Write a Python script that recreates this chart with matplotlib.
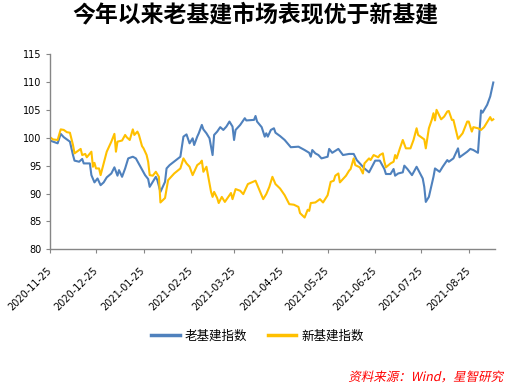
# -*- coding: utf-8 -*-
"""Old vs new infrastructure index, recreated with matplotlib."""

import matplotlib
matplotlib.use('Agg')
import matplotlib.pyplot as plt
import pandas as pd
from matplotlib.textpath import TextPath
from matplotlib.patches import PathPatch
from matplotlib.font_manager import FontProperties
from matplotlib.transforms import Affine2D

# DATA
# ----
title = '今年以来老基建市场表现优于新基建'
source = '资料来源：Wind，星智研究'
old_label = '老基建指数'
new_label = '新基建指数'

tick_dates = ['2020-11-25', '2020-12-25', '2021-01-25', '2021-02-25', '2021-03-25',
              '2021-04-25', '2021-05-25', '2021-06-25', '2021-07-25', '2021-08-25']
y_ticks = [80, 85, 90, 95, 100, 105, 110, 115]

old_dates = ['2020-11-25', '2020-11-30', '2020-12-02', '2020-12-04', '2020-12-08', '2020-12-10',
             '2020-12-11', '2020-12-14', '2020-12-16', '2020-12-17', '2020-12-21', '2020-12-22',
             '2020-12-24', '2020-12-26', '2020-12-28', '2020-12-30', '2021-01-01', '2021-01-04',
             '2021-01-06', '2021-01-08', '2021-01-09', '2021-01-11', '2021-01-13', '2021-01-15',
             '2021-01-18', '2021-01-20', '2021-01-23', '2021-01-26', '2021-01-28', '2021-01-29',
             '2021-02-02', '2021-02-03', '2021-02-05', '2021-02-08', '2021-02-09', '2021-02-11',
             '2021-02-18', '2021-02-19', '2021-02-20', '2021-02-22', '2021-02-24', '2021-02-26',
             '2021-02-27', '2021-03-01', '2021-03-02', '2021-03-04', '2021-03-05', '2021-03-07',
             '2021-03-09', '2021-03-11', '2021-03-12', '2021-03-14', '2021-03-16', '2021-03-18',
             '2021-03-19', '2021-03-20', '2021-03-22', '2021-03-24', '2021-03-25', '2021-03-26',
             '2021-03-29', '2021-04-01', '2021-04-02', '2021-04-07', '2021-04-08', '2021-04-09',
             '2021-04-12', '2021-04-14', '2021-04-15', '2021-04-16', '2021-04-18', '2021-04-20',
             '2021-04-21', '2021-04-24', '2021-04-27', '2021-05-01', '2021-05-06', '2021-05-10',
             '2021-05-13', '2021-05-14', '2021-05-15', '2021-05-17', '2021-05-19', '2021-05-21',
             '2021-05-25', '2021-05-26', '2021-05-28', '2021-06-01', '2021-06-04', '2021-06-08',
             '2021-06-11', '2021-06-13', '2021-06-18', '2021-06-21', '2021-06-25', '2021-06-28',
             '2021-07-01', '2021-07-02', '2021-07-05', '2021-07-07', '2021-07-08', '2021-07-10',
             '2021-07-13', '2021-07-14', '2021-07-16', '2021-07-19', '2021-07-22', '2021-07-26',
             '2021-07-27', '2021-07-28', '2021-07-30', '2021-08-02', '2021-08-03', '2021-08-06',
             '2021-08-08', '2021-08-11', '2021-08-12', '2021-08-15', '2021-08-18', '2021-08-19',
             '2021-08-21', '2021-08-24', '2021-08-26', '2021-08-28', '2021-08-31', '2021-09-01',
             '2021-09-02', '2021-09-03', '2021-09-06', '2021-09-08', '2021-09-10']
old_vals = [99.5, 99.0, 100.7, 100.1, 99.3, 96.9, 95.9, 95.7, 96.2, 95.4,
            95.4, 93.3, 92.0, 92.7, 91.5, 92.0, 92.9, 93.6, 94.7, 93.2,
            94.2, 93.0, 94.5, 96.3, 96.6, 96.3, 94.8, 93.3, 92.6, 91.2,
            93.0, 92.4, 90.3, 92.1, 94.5, 95.1, 96.6, 98.4, 100.2, 100.6,
            99.0, 99.9, 98.7, 100.2, 100.8, 102.3, 101.5, 100.8, 99.9, 96.9,
            100.5, 101.1, 101.9, 101.4, 101.7, 102.0, 102.9, 102.0, 99.6, 101.4,
            102.3, 103.5, 103.1, 103.2, 103.9, 102.9, 101.9, 100.2, 100.8, 100.2,
            101.4, 101.7, 100.9, 100.3, 99.6, 98.3, 98.4, 97.8, 97.3, 96.6,
            97.8, 97.2, 96.9, 96.3, 96.6, 98.0, 97.3, 98.0, 96.9, 97.1,
            97.1, 96.0, 94.5, 93.8, 95.9, 95.9, 94.4, 93.5, 93.5, 94.4,
            93.2, 93.6, 93.8, 95.0, 94.4, 93.3, 94.8, 92.7, 91.2, 88.5,
            89.4, 93.0, 94.5, 93.9, 94.8, 96.0, 95.7, 96.3, 98.1, 96.5,
            96.9, 97.5, 98.0, 97.8, 97.3, 101.1, 104.9, 104.5, 105.9, 107.4,
            109.9]

new_dates = ['2020-11-25', '2020-11-27', '2020-11-30', '2020-12-02', '2020-12-04', '2020-12-06',
             '2020-12-08', '2020-12-10', '2020-12-11', '2020-12-15', '2020-12-16', '2020-12-18',
             '2020-12-19', '2020-12-22', '2020-12-23', '2020-12-24', '2020-12-25', '2020-12-27',
             '2020-12-28', '2020-12-30', '2021-01-01', '2021-01-04', '2021-01-06', '2021-01-07',
             '2021-01-08', '2021-01-11', '2021-01-13', '2021-01-14', '2021-01-16', '2021-01-18',
             '2021-01-19', '2021-01-21', '2021-01-22', '2021-01-24', '2021-01-25', '2021-01-27',
             '2021-01-28', '2021-01-29', '2021-01-31', '2021-02-02', '2021-02-04', '2021-02-05',
             '2021-02-08', '2021-02-10', '2021-02-14', '2021-02-18', '2021-02-20', '2021-02-22',
             '2021-02-24', '2021-02-26', '2021-03-01', '2021-03-03', '2021-03-04', '2021-03-05',
             '2021-03-07', '2021-03-08', '2021-03-10', '2021-03-11', '2021-03-12', '2021-03-14',
             '2021-03-15', '2021-03-17', '2021-03-19', '2021-03-23', '2021-03-24', '2021-03-26',
             '2021-03-29', '2021-03-31', '2021-04-03', '2021-04-08', '2021-04-11', '2021-04-13',
             '2021-04-15', '2021-04-17', '2021-04-19', '2021-04-21', '2021-04-24', '2021-04-27',
             '2021-04-30', '2021-05-03', '2021-05-06', '2021-05-07', '2021-05-10', '2021-05-12',
             '2021-05-13', '2021-05-14', '2021-05-17', '2021-05-20', '2021-05-22', '2021-05-25',
             '2021-05-27', '2021-05-29', '2021-05-30', '2021-06-01', '2021-06-02', '2021-06-06',
             '2021-06-08', '2021-06-09', '2021-06-11', '2021-06-12', '2021-06-15', '2021-06-17',
             '2021-06-18', '2021-06-21', '2021-06-22', '2021-06-24', '2021-06-27', '2021-06-28',
             '2021-06-30', '2021-07-01', '2021-07-02', '2021-07-05', '2021-07-07', '2021-07-08',
             '2021-07-09', '2021-07-11', '2021-07-13', '2021-07-15', '2021-07-18', '2021-07-20',
             '2021-07-22', '2021-07-23', '2021-07-27', '2021-07-28', '2021-07-30', '2021-08-01',
             '2021-08-02', '2021-08-03', '2021-08-04', '2021-08-07', '2021-08-09', '2021-08-11',
             '2021-08-12', '2021-08-14', '2021-08-15', '2021-08-18', '2021-08-21', '2021-08-24',
             '2021-08-25', '2021-08-27', '2021-08-28', '2021-08-31', '2021-09-02', '2021-09-04',
             '2021-09-08', '2021-09-09', '2021-09-10']
new_vals = [100.1, 99.7, 99.6, 101.5, 101.4, 101.0, 100.9, 98.7, 97.2, 98.0,
            96.9, 97.1, 96.5, 97.5, 94.8, 95.5, 94.5, 94.5, 93.3, 95.4,
            97.5, 99.3, 100.7, 97.5, 99.3, 99.5, 100.5, 100.1, 99.6, 101.5,
            100.5, 101.1, 100.5, 98.5, 98.1, 96.9, 95.7, 93.3, 93.2, 93.9,
            93.0, 88.4, 89.2, 92.4, 93.6, 94.5, 96.3, 95.4, 94.8, 93.3,
            95.1, 95.5, 95.9, 93.9, 94.8, 93.3, 90.3, 89.4, 90.3, 89.2,
            88.3, 89.4, 88.5, 90.1, 89.0, 90.8, 90.5, 89.9, 91.7, 92.3,
            90.3, 89.0, 89.9, 91.2, 93.0, 91.7, 90.9, 89.7, 88.1, 88.0,
            87.6, 86.5, 85.7, 87.1, 86.9, 88.3, 88.4, 89.0, 88.4, 89.7,
            92.1, 92.3, 93.2, 93.6, 92.0, 93.2, 94.1, 94.4, 96.3, 95.1,
            94.7, 93.6, 95.4, 96.3, 96.0, 96.9, 96.5, 96.9, 97.2, 95.7,
            94.7, 95.4, 95.7, 96.9, 96.3, 98.0, 99.6, 98.1, 98.1, 99.6,
            101.7, 100.5, 99.7, 98.1, 101.7, 103.3, 104.4, 103.1, 105.0, 103.3,
            103.8, 104.7, 104.8, 103.2, 103.2, 99.8, 100.8, 102.9, 102.9, 101.1,
            101.9, 101.7, 101.4, 101.9, 103.7, 103.1, 103.3]

# PLOT
# ----
plt.rcParams['font.family'] = ['Noto Sans CJK SC', 'DejaVu Sans']
grey = '#868686'

fig = plt.figure(figsize=(5.1, 3.86), dpi=100)
ax = fig.add_axes([0.098, 0.354, 0.873, 0.506])

ax.plot(pd.to_datetime(old_dates), old_vals, color='#4F81BD', lw=1.5, label=old_label)
ax.plot(pd.to_datetime(new_dates), new_vals, color='#FFC000', lw=1.5, label=new_label)

ax.set_ylim(80, 115)
ax.set_yticks(y_ticks)
ax.set_yticklabels([str(v) for v in y_ticks], fontsize=7, family='DejaVu Sans')
ax.set_xlim(pd.Timestamp('2020-11-25'), pd.Timestamp('2021-09-11 06:00'))
ax.set_xticks(pd.to_datetime(tick_dates))
ax.set_xticklabels(tick_dates, rotation=45, ha='right', va='center',
                   rotation_mode='anchor', fontsize=7, family='DejaVu Sans')

for side in ['top', 'right']:
    ax.spines[side].set_visible(False)
for side in ['left', 'bottom']:
    ax.spines[side].set_color(grey)
    ax.spines[side].set_linewidth(1.0)
ax.tick_params(axis='y', direction='out', length=3, width=0.8, color=grey, pad=3)
ax.tick_params(axis='x', direction='out', length=3, width=0.8, color=grey, pad=11)

fig.text(0.5, 0.961, title, ha='center', va='center', fontsize=16.5, fontweight='bold')

leg = fig.legend(loc='center', bbox_to_anchor=(0.505, 0.13), ncol=2, frameon=False,
                 fontsize=9, handlelength=2.3, handletextpad=0.4, columnspacing=1.6)
for line in leg.get_lines():
    line.set_linewidth(2.5)

# red italic source note (CJK fonts have no italic face, so skew the glyph outlines)
tp = TextPath((0, 0), source, size=12.5, prop=FontProperties(family='Noto Sans CJK SC'))
bb = tp.get_extents()
shear = Affine2D().skew_deg(12, 0).translate(505 - bb.width - 3, 5)
fig.add_artist(PathPatch(tp, transform=shear, facecolor='#FF0000', edgecolor='none'))

fig.savefig('out.png', dpi=100)
